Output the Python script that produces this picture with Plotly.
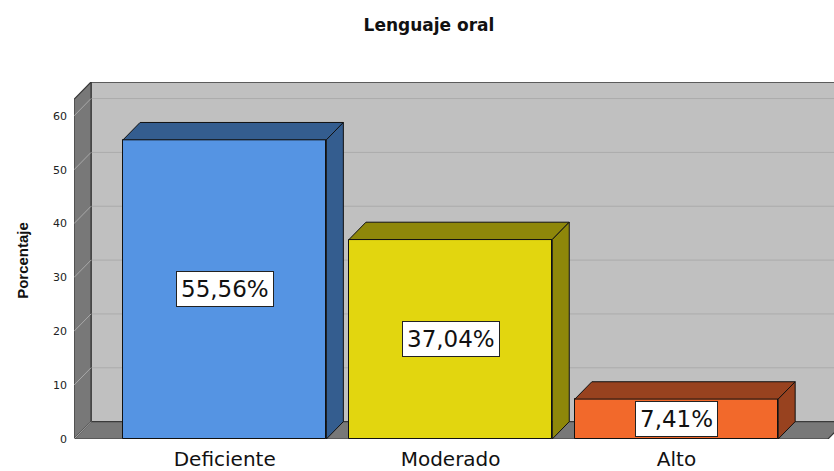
import plotly.graph_objects as go

# ---- data ----
categories = ["Deficiente", "Moderado", "Alto"]
percentages = [55.56, 37.04, 7.41]
value_labels = ["55,56%", "37,04%", "7,41%"]
y_ticks = [0, 10, 20, 30, 40, 50, 60]

# ---- styling ----
front_colors = ["#5594E3", "#E2D60F", "#F2692B"]
shade_colors = ["#345D8F", "#8E870A", "#98421F"]
BACK_WALL = "#C0C0C0"
SIDE_WALL = "#787878"
EDGE = "#3A3A3A"

X_MIN, X_MAX = -0.6671, 2.6972
Y_MAX = 66.3
BAR_W = 0.9
DX = 17 / 225.9        # depth offset in x data units
DY = 17.5 / 5.43       # depth offset in y data units
FLOOR_END = 2.6707

FIG_W, FIG_H = 834, 471

xs = list(range(len(categories)))

fig = go.Figure()

# front faces
fig.add_trace(go.Bar(
    x=xs, y=percentages, width=BAR_W,
    marker=dict(color=front_colors, line=dict(color="#111111", width=1)),
    hoverinfo="skip", showlegend=False,
))

# top and side faces
for i, v in enumerate(percentages):
    L, R = i - BAR_W / 2, i + BAR_W / 2
    fig.add_trace(go.Scatter(
        x=[L, R, R + DX, L + DX, L], y=[v, v, v + DY, v + DY, v],
        fill="toself", fillcolor=shade_colors[i], mode="lines",
        line=dict(color="#111111", width=1), hoverinfo="skip", showlegend=False,
    ))
    fig.add_trace(go.Scatter(
        x=[R, R + DX, R + DX, R, R], y=[0, DY, v + DY, v, 0],
        fill="toself", fillcolor=shade_colors[i], mode="lines",
        line=dict(color="#111111", width=1), hoverinfo="skip", showlegend=False,
    ))

shapes = []
# back wall
shapes.append(dict(type="rect", xref="x", yref="y", x0=X_MIN + DX, x1=X_MAX + 1, y0=DY, y1=Y_MAX,
                   fillcolor=BACK_WALL, line=dict(color=EDGE, width=1.5), layer="below"))
# back wall gridlines
for t in y_ticks[1:]:
    shapes.append(dict(type="line", xref="x", yref="y", x0=X_MIN + DX, x1=X_MAX + 1, y0=t + DY, y1=t + DY,
                       line=dict(color="#ABABAB", width=1), layer="below"))
# left wall
shapes.append(dict(type="path", xref="x", yref="y",
                   path=f"M {X_MIN},0 L {X_MIN},{Y_MAX - DY} L {X_MIN + DX},{Y_MAX} L {X_MIN + DX},{DY} Z",
                   fillcolor=SIDE_WALL, line=dict(color=EDGE, width=1.2), layer="below"))
# floor
shapes.append(dict(type="path", xref="x", yref="y",
                   path=f"M {X_MIN},0 L {FLOOR_END},0 L {FLOOR_END + DX},{DY} L {X_MIN + DX},{DY} Z",
                   fillcolor=SIDE_WALL, line=dict(color=EDGE, width=1.2), layer="below"))
# left wall gridlines
for t in y_ticks:
    shapes.append(dict(type="line", xref="x", yref="y", x0=X_MIN, x1=X_MIN + DX, y0=t, y1=t + DY,
                       line=dict(color="#A8A8A8", width=1), layer="below"))

annotations = []
for i, (v, lab) in enumerate(zip(percentages, value_labels)):
    annotations.append(dict(
        x=i, y=v / 2, xref="x", yref="y", text=lab, showarrow=False,
        font=dict(family="DejaVu Sans", size=23, color="#111111"),
        bgcolor="white", bordercolor="#222222", borderwidth=1, borderpad=4,
    ))

fig.update_layout(
    width=FIG_W, height=FIG_H, autosize=False,
    margin=dict(l=74, r=0, t=82, b=29),
    paper_bgcolor="white", plot_bgcolor="white",
    bargap=0,
    title=dict(text="Lenguaje oral", x=429 / FIG_W, xanchor="center",
               y=1 - 25 / FIG_H, yanchor="middle",
               font=dict(family="DejaVu Sans", size=17, color="#111111", weight="bold")),
    shapes=shapes, annotations=annotations,
    xaxis=dict(range=[X_MIN, X_MAX], tickvals=xs, ticktext=categories, showgrid=False,
               zeroline=False, showline=False, ticks="", ticklabelstandoff=6,
               tickfont=dict(family="DejaVu Sans", size=20, color="#111111")),
    yaxis=dict(range=[0, Y_MAX], tickvals=y_ticks, showgrid=False, zeroline=False,
               showline=False, ticks="", ticklabelstandoff=6,
               tickfont=dict(family="DejaVu Sans", size=11, color="#222222"),
               title=dict(text="Porcentaje", standoff=20,
                          font=dict(family="Liberation Sans", size=15, color="#111111", weight="bold"))),
)

fig.write_html(
    "out.html",
    config={"displayModeBar": False},
    post_script="document.body.style.margin='0';document.body.style.overflow='hidden';",
)
